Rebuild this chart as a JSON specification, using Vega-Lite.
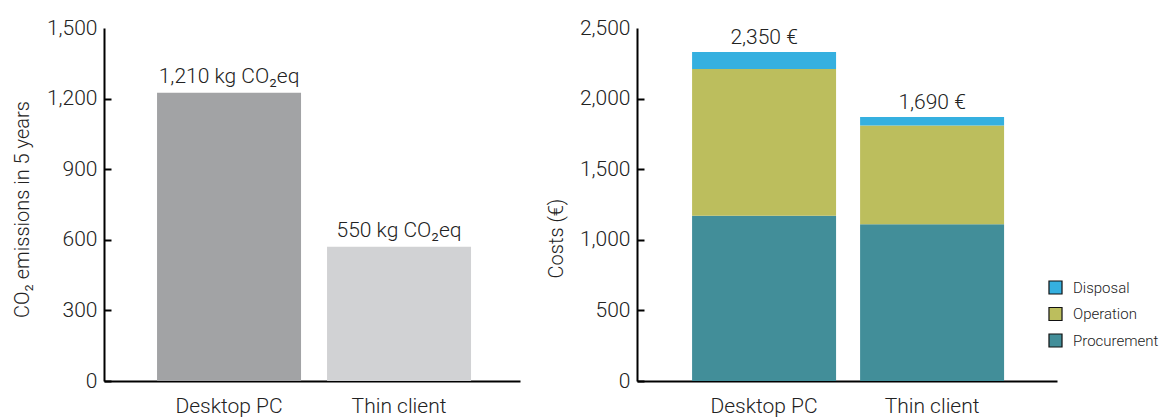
{
  "$schema": "https://vega.github.io/schema/vega-lite/v6.json",
  "background": "white",
  "padding": {"left": 12, "top": 17, "right": 5, "bottom": 5},
  "bounds": "flush",
  "spacing": 117,
  "resolve": {"scale": {"color": "independent"}},
  "config": {
    "font": "Roboto, sans-serif",
    "view": {"stroke": null},
    "axis": {
      "domainColor": "#000",
      "domainWidth": 2,
      "tickColor": "#000",
      "tickWidth": 2,
      "labelColor": "#222",
      "titleColor": "#222",
      "labelFontSize": 21,
      "labelFontWeight": 300,
      "titleFontSize": 20,
      "titleFontWeight": 300,
      "grid": false
    },
    "axisX": {"ticks": false, "labelPadding": 14, "labelAngle": 0},
    "axisY": {"tickSize": -7, "labelPadding": 14, "titleBaseline": "middle"},
    "legend": {
      "labelFontSize": 15,
      "labelFontWeight": 300,
      "labelColor": "#222",
      "symbolType": "square",
      "symbolSize": 170,
      "symbolStrokeColor": "#111",
      "symbolStrokeWidth": 1.2,
      "symbolOpacity": 1,
      "rowPadding": 7.5,
      "labelOffset": 10,
      "padding": 0
    }
  },
  "datasets": {
    "co2": [
      {"device": "Desktop PC", "emissions": 1225, "label": "1,210 kg CO₂eq"},
      {"device": "Thin client", "emissions": 570, "label": "550 kg CO₂eq"}
    ],
    "costs": [
      {"device": "Desktop PC", "component": "Procurement", "cost": 1170},
      {"device": "Desktop PC", "component": "Operation", "cost": 1040},
      {"device": "Desktop PC", "component": "Disposal", "cost": 120},
      {"device": "Thin client", "component": "Procurement", "cost": 1110},
      {"device": "Thin client", "component": "Operation", "cost": 700},
      {"device": "Thin client", "component": "Disposal", "cost": 60}
    ],
    "totals": [
      {"device": "Desktop PC", "total": 2330, "label": "2,350 €"},
      {"device": "Thin client", "total": 1870, "label": "1,690 €"}
    ]
  },
  "hconcat": [
    {
      "width": 416,
      "height": 353,
      "data": {"name": "co2"},
      "encoding": {
        "x": {
          "field": "device",
          "type": "nominal",
          "sort": null,
          "scale": {"paddingInner": 0.153, "paddingOuter": 0.3, "align": 0.52},
          "axis": {"title": null}
        },
        "y": {
          "field": "emissions",
          "type": "quantitative",
          "scale": {"domain": [0, 1500], "nice": false},
          "axis": {
            "values": [0, 300, 600, 900, 1200, 1500],
            "format": ",d",
            "title": "CO₂ emissions in 5 years",
            "titleX": -82,
            "titleY": 181,
            "tickOpacity": {"condition": {"test": "datum.value >= 1500", "value": 0}, "value": 1}
          }
        }
      },
      "layer": [
        {
          "mark": {"type": "bar"},
          "encoding": {
            "color": {
              "field": "device",
              "type": "nominal",
              "scale": {"domain": ["Desktop PC", "Thin client"], "range": ["#a2a3a5", "#d1d2d4"]},
              "legend": null
            }
          }
        },
        {
          "mark": {"type": "text", "baseline": "alphabetic", "dy": -10, "fontSize": 21, "fontWeight": 300, "color": "#222"},
          "encoding": {"text": {"field": "label", "type": "nominal"}}
        }
      ]
    },
    {
      "width": 420,
      "height": 353,
      "encoding": {
        "x": {
          "field": "device",
          "type": "nominal",
          "sort": null,
          "scale": {"paddingInner": 0.143, "paddingOuter": 0.3214, "align": 0.51},
          "axis": {"title": null}
        }
      },
      "layer": [
        {
          "data": {"name": "costs"},
          "mark": {"type": "bar"},
          "encoding": {
            "y": {
              "field": "cost",
              "type": "quantitative",
              "stack": "zero",
              "scale": {"domain": [0, 2500], "nice": false},
              "axis": {
                "values": [0, 500, 1000, 1500, 2000, 2500],
                "format": ",d",
                "title": "Costs (€)",
                "titleX": -81,
                "titleY": 210,
                "tickOpacity": {"condition": {"test": "datum.value >= 2500", "value": 0}, "value": 1}
              }
            },
            "color": {
              "field": "component",
              "type": "nominal",
              "scale": {"domain": ["Disposal", "Operation", "Procurement"], "range": ["#35b0e0", "#bcbe5d", "#428e99"]},
              "legend": {"title": null, "orient": "none", "legendX": 411, "legendY": 252}
            },
            "order": {"field": "component", "sort": "descending"}
          }
        },
        {
          "data": {"name": "totals"},
          "mark": {"type": "text", "baseline": "alphabetic", "dy": -8, "fontSize": 21, "fontWeight": 300, "color": "#222"},
          "encoding": {
            "y": {"field": "total", "type": "quantitative", "scale": {"domain": [0, 2500], "nice": false}},
            "text": {"field": "label", "type": "nominal"}
          }
        }
      ]
    }
  ]
}
